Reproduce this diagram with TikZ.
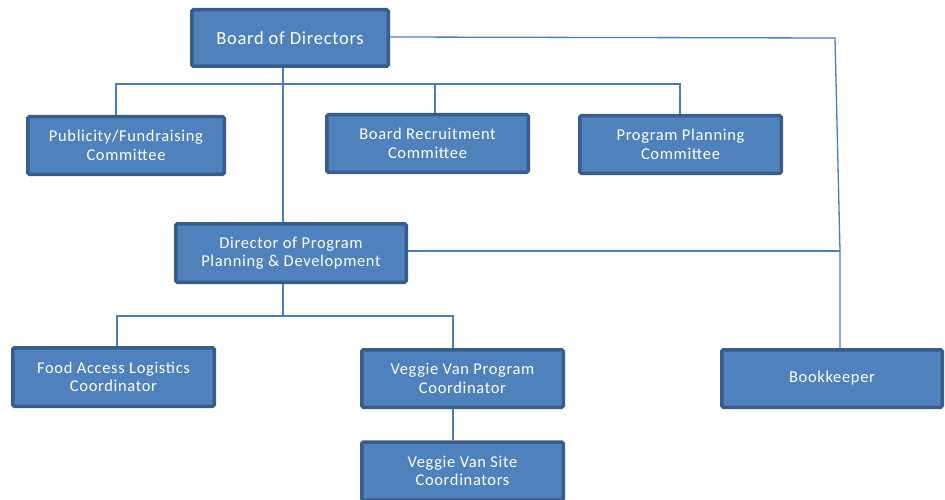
\documentclass[tikz,border=0pt]{standalone}
\usepackage{fontspec}
\setmainfont{Carlito}[LetterSpace=4]
\definecolor{boxfill}{HTML}{4F81BD}
\definecolor{boxline}{HTML}{385D8A}
\definecolor{conn}{HTML}{4A7EBB}
\begin{document}
\begin{tikzpicture}[x=1pt,y=-1pt,
  orgbox/.style={draw=boxline,fill=boxfill,line width=3.5pt,rounded corners=1.5pt,text=white,
    align=center,inner sep=0pt,font=\fontsize{16.5}{18.5}\selectfont},
  conn/.style={draw=conn,line width=1.3pt}]
\useasboundingbox (0,0) rectangle (945,500);
\node[orgbox,minimum width=196.5pt,minimum height=56.5pt,font=\fontsize{18.5}{20}\selectfont] (bod) at (290,38) {Board of Directors};
\node[orgbox,minimum width=196.5pt,minimum height=57.5pt] (pub) at (126,145.5) {Publicity/Fundraising\\Committee};
\node[orgbox,minimum width=201.5pt,minimum height=57.5pt] (rec) at (427.5,143.5) {Board Recruitment\\Committee};
\node[orgbox,minimum width=201.5pt,minimum height=57.5pt] (ppc) at (680.5,144.5) {Program Planning\\Committee};
\node[orgbox,minimum width=230.5pt,minimum height=58.5pt] (dir) at (291,253) {Director of Program\\Planning \& Development};
\node[orgbox,minimum width=201.5pt,minimum height=58.5pt] (food) at (113.5,377) {Food Access Logistics\\Coordinator};
\node[orgbox,minimum width=201.5pt,minimum height=57.5pt] (vvp) at (462.5,378.5) {Veggie Van Program\\Coordinator};
\node[orgbox,minimum width=220.5pt,minimum height=57.5pt] (book) at (832,378.5) {Bookkeeper};
\node[orgbox,minimum width=201.5pt,minimum height=58pt] (site) at (462.5,471) {Veggie Van Site\\Coordinators};
% connectors
\coordinate (h1l) at (116,84);
\coordinate (h1r) at (680,84);
\coordinate (bk1) at (835,38);
\coordinate (bk2) at (840,251);
\coordinate (h2l) at (117,316);
\coordinate (h2r) at (453,316);
\draw[conn] (bod.south -| 283,0) -- (dir.north -| 283,0);
\draw[conn] (pub.north -| h1l) -- (h1l) -- (h1r) -- (ppc.north -| h1r);
\draw[conn] (435,84) -- (rec.north -| 435,0);
\draw[conn] (bod.east |- 0,37) -- (bk1) -- (bk2) -- (book.north -| 840,0);
\draw[conn] (dir.east |- 0,251) -- (bk2);
\draw[conn] (dir.south -| 283,0) -- (283,316);
\draw[conn] (food.north -| h2l) -- (h2l) -- (h2r) -- (vvp.north -| h2r);
\draw[conn] (vvp.south -| 453,0) -- (site.north -| 453,0);
\end{tikzpicture}
\end{document}
